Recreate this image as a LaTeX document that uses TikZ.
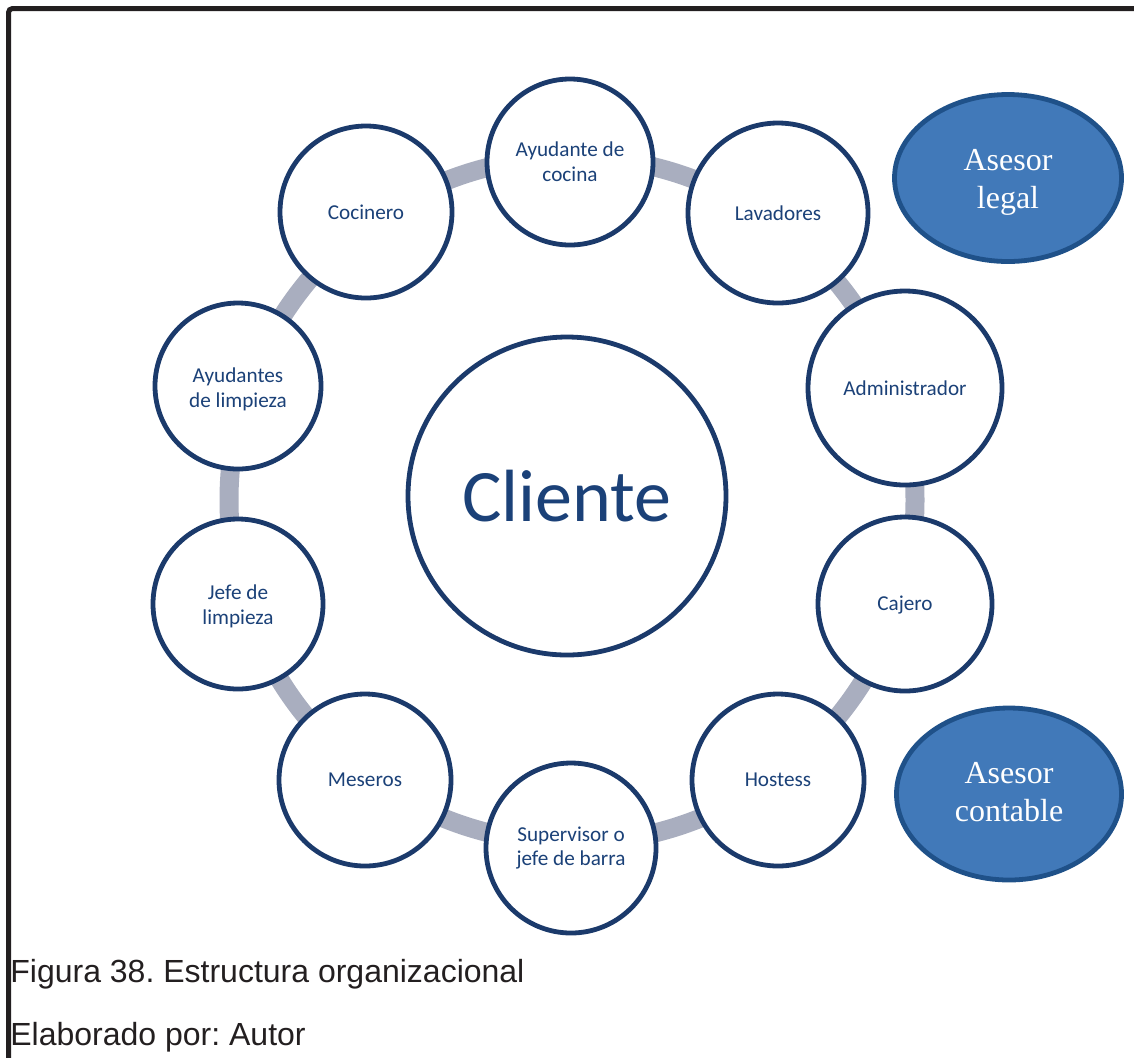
\documentclass[tikz,border=0pt]{standalone}
\usepackage{fontspec}
\setmainfont{Liberation Serif}
\newfontfamily\calfont{Carlito}
\newfontfamily\capfont{Liberation Sans}
\usetikzlibrary{shapes.geometric,backgrounds}
\definecolor{navy}{HTML}{1B3A6B}
\definecolor{labelblue}{HTML}{1B4178}
\definecolor{ringgray}{HTML}{A9AEBF}
\definecolor{advfill}{HTML}{4179B9}
\definecolor{advedge}{HTML}{1F5189}
\definecolor{inkblack}{HTML}{231F20}
% text lowered inside its node without changing the node's size
\newcommand{\lowered}[2]{\raisebox{-#1}[\height][\depth]{\begin{tabular}{@{}c@{}}#2\end{tabular}}}

\begin{document}
\frenchspacing
\begin{tikzpicture}[x=0.5pt,y=-0.5pt,
  role/.style={circle,draw=navy,line width=2.4pt,fill=white,text=labelblue,
    align=center,inner sep=0pt,font=\calfont\fontsize{10.6}{12.2}\selectfont},
  hub/.style={role,font=\calfont\fontsize{37}{40}\selectfont},
  advisor/.style={ellipse,draw=advedge,line width=2.4pt,fill=advfill,text=white,
    align=center,inner sep=0pt,font=\fontsize{16}{19}\selectfont},
  link/.style={draw=ringgray,line width=9.5pt},
  caption/.style={anchor=base west,inner sep=0pt,text=inkblack,
    font=\capfont\fontsize{16}{19}\selectfont}]
\useasboundingbox (0,0) rectangle (1134,1057);

% frame: top and left edges only
\draw[inkblack,line width=2.5pt,rounded corners=2pt]
  (8.5,1070) -- (8.5,8.5) -- (1150,8.5);

% centre of the cycle
\coordinate (ringc) at (572,500);

% staff members around the cycle
\node[role,minimum size=83pt] (cocina) at (570,162) {\lowered{1pt}{Ayudante de\\cocina}};
\node[role,minimum size=90pt] (lav)    at (778,213) {Lavadores};
\node[role,minimum size=97pt] (admin)  at (905,388) {Administrador};
\node[role,minimum size=87pt] (caj)    at (905,604) {\lowered{1pt}{Cajero}};
\node[role,minimum size=86pt] (host)   at (778,780) {Hostess};
\node[role,minimum size=85pt] (sup)    at (571,848) {Supervisor o\\jefe de barra};
\node[role,minimum size=86pt] (mes)    at (365,780) {Meseros};
\node[role,minimum size=85pt] (jefe)   at (238,604) {\lowered{1.5pt}{Jefe de\\limpieza}};
\node[role,minimum size=83pt] (ayl)    at (238,386) {\lowered{2pt}{Ayudantes\\de limpieza}};
\node[role,minimum size=86pt] (coc)    at (366,212) {Cocinero};

% the client in the middle
\node[hub,minimum size=159pt] (cliente) at (567,496) {Cliente};

% external advisors
\node[advisor,minimum width=113.5pt,minimum height=83.5pt] (legal) at (1008,178)
  {\lowered{2pt}{Asesor\\legal}};
\node[advisor,minimum width=112.5pt,minimum height=86pt] (contable) at (1009,794)
  {\lowered{0.5pt}{Asesor\\contable}};

% ring linking the staff, behind the circles
\begin{scope}[on background layer]
  \draw[link] (ringc) circle[radius=171.5pt];
\end{scope}

% caption
\node[caption] (fig) at (10,982) {Figura 38. Estructura organizacional};
\node[caption] (src) at (10,1045) {Elaborado por: Autor};
\end{tikzpicture}
\end{document}
